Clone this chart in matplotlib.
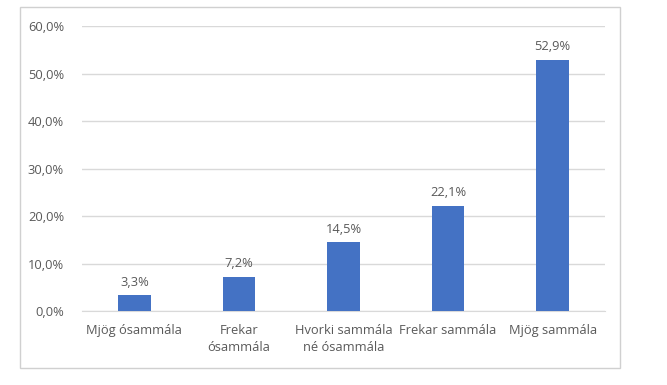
import matplotlib
matplotlib.use("Agg")
import matplotlib.pyplot as plt
from matplotlib.patches import Rectangle
from matplotlib.ticker import FuncFormatter

categories = ["Mjög ósammála", "Frekar\nósammála", "Hvorki sammála\nné ósammála",
              "Frekar sammála", "Mjög sammála"]
values = [3.3, 7.2, 14.5, 22.1, 52.9]

TEXT = "#595959"
GRID = "#D9D9D9"
BLUE = "#4472C4"

plt.rcParams['font.family'] = ['Open Sans', 'DejaVu Sans']

fig = plt.figure(figsize=(6.67, 3.85), dpi=100)
ax = fig.add_axes([0.123, 0.192, 0.784, 0.7405])

# chart area border
fig.patches.append(Rectangle((20 / 667, 1 - 368 / 385), 600 / 667, 361 / 385,
                             transform=fig.transFigure, fill=False,
                             edgecolor="#D0D0D0", linewidth=1.0))

x = range(len(categories))
bars = ax.bar(x, values, width=0.31, color=BLUE, zorder=3)
for xi, v in zip(x, values):
    ax.text(xi, v + 1.4, f"{v:.1f}%".replace(".", ","), ha="center", va="bottom",
            fontsize=9.3, color=TEXT, zorder=4)

ax.set_xlim(-0.5, len(categories) - 0.5)
ax.set_ylim(0, 60)
ax.set_yticks(range(0, 61, 10))
ax.yaxis.set_major_formatter(FuncFormatter(lambda v, p: f"{v:.1f}%".replace(".", ",")))
ax.set_xticks(list(x))
ax.set_xticklabels(categories, linespacing=1.45)
ax.tick_params(axis="both", length=0, labelsize=9.3, labelcolor=TEXT)
ax.tick_params(axis="y", pad=13)
ax.tick_params(axis="x", pad=9)
ax.grid(axis="y", color=GRID, linewidth=1, zorder=0)
for s in ["top", "right", "left"]:
    ax.spines[s].set_visible(False)
ax.spines["bottom"].set_color(GRID)

fig.savefig("out.png", dpi=100)
